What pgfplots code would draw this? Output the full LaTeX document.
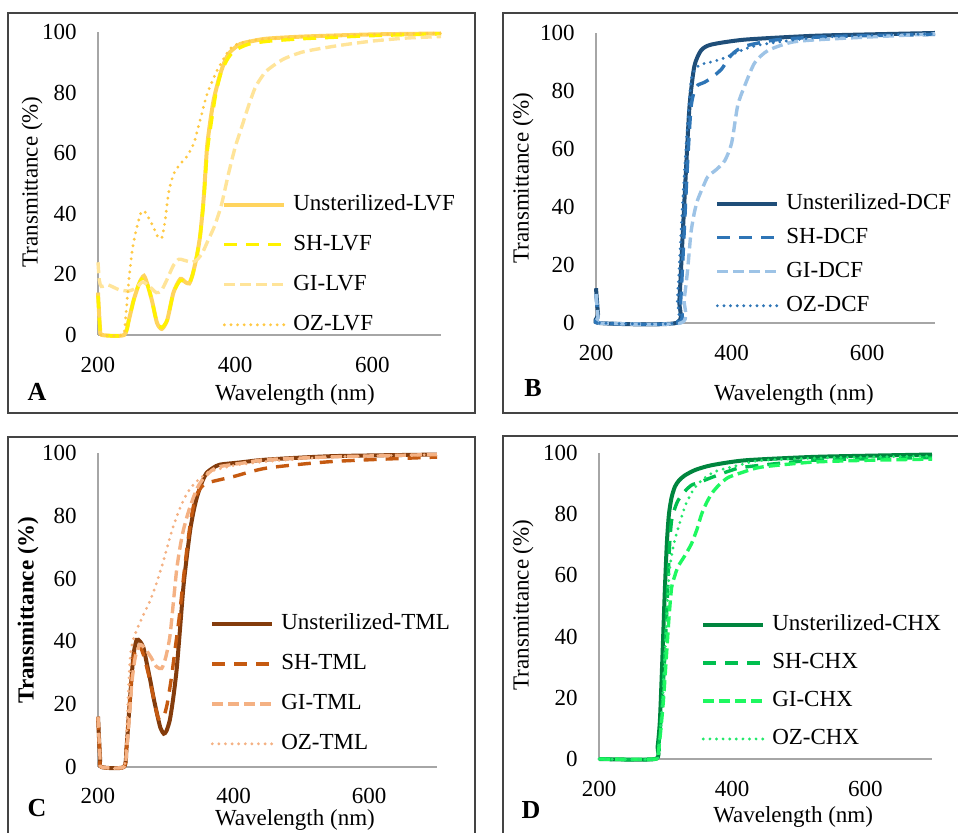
\documentclass[border=0pt]{standalone}
\usepackage{fontspec}
\setmainfont{Liberation Serif}
\usepackage{pgfplots}
\pgfplotsset{compat=1.18}

\definecolor{axisgray}{HTML}{A6A6A6}
\definecolor{framegray}{HTML}{444444}
% LVF
\definecolor{lvfU}{HTML}{FFD45E}
\definecolor{lvfSH}{HTML}{FFF200}
\definecolor{lvfGI}{HTML}{FFE499}
\definecolor{lvfOZ}{HTML}{FFC944}
% DCF
\definecolor{dcfU}{HTML}{1F4E79}
\definecolor{dcfSH}{HTML}{2E75B6}
\definecolor{dcfGI}{HTML}{9DC3E6}
\definecolor{dcfOZ}{HTML}{2E75B6}
% TML
\definecolor{tmlU}{HTML}{843C0C}
\definecolor{tmlSH}{HTML}{C55A11}
\definecolor{tmlGI}{HTML}{F4B183}
\definecolor{tmlOZ}{HTML}{F4B183}
% CHX
\definecolor{chxU}{HTML}{00853E}
\definecolor{chxSH}{HTML}{00BF4F}
\definecolor{chxGI}{HTML}{1EF860}
\definecolor{chxOZ}{HTML}{22E86A}

\newcommand\fs{\fontsize{11.5}{13.8}\selectfont}

\pgfplotsset{
  panel/.style={
    scale only axis, anchor=south west,
    xmin=200, xmax=700, ymin=0, ymax=100,
    xtick={200,400,600}, ytick={0,20,...,100},
    axis lines*=left,
    axis line style={draw=axisgray, line width=0.7pt},
    major tick length=0pt,
    tick label style={font=\fs},
    /pgf/number format/assume math mode=true,
    yticklabel style={inner sep=0pt, anchor=east, xshift=-10.5pt},
    xticklabel style={inner sep=0pt, anchor=north, yshift=-11pt},
    label style={font=\fs},
    clip=false,
    legend cell align=left,
    legend image code/.code={\draw[#1] (0pt,0pt) -- (30pt,0pt);},
    legend style={draw=none, fill=none, inner sep=0pt, anchor=north west,
      font=\fs, row sep=10pt,
      nodes={inner sep=0pt, text height=8pt, text depth=2pt},
      /tikz/every odd column/.style={column sep=3.5pt}},
  },
  uns/.style={line width=2pt, smooth, tension=0.4},
  sh/.style={line width=1.7pt, smooth, tension=0.4, dash pattern=on 6.5pt off 4.5pt},
  gi/.style={line width=1.7pt, smooth, tension=0.4, dash pattern=on 5.5pt off 2.5pt},
  oz/.style={line width=1.6pt, smooth, tension=0.4, line cap=round, dash pattern=on 0pt off 3.3pt},
}

\begin{document}
\begin{tikzpicture}[x=0.5pt,y=0.5pt]
\path[use as bounding box] (0,0) rectangle (958,833);
\clip (0,0) rectangle (958,833);

% frames
\draw[framegray, line width=0.8pt] (8,820) rectangle (475,420);
\draw[framegray, line width=0.8pt] (503,820) rectangle (975,420);
\draw[framegray, line width=0.8pt] (8,396) rectangle (475,-20);
\draw[framegray, line width=0.8pt] (503,397) rectangle (975,-20);

% ---------- A: LVF
\begin{axis}[panel, at={(49pt,249pt)}, width=171.5pt, height=151.5pt,
  xlabel={Wavelength (nm)}, ylabel={Transmittance (\%)},
  xlabel style={at={(axis description cs:0.574,0)}, anchor=center, yshift=-30pt},
  ylabel style={at={(axis description cs:-0.192,0.505)}, anchor=center},
  legend style={at={(axis description cs:0.3615,0.464)}}]
\addplot[uns, lvfU] coordinates {(200,14)(203,2)(206,0)(238,0)(245,5)(252,11.5)(260,17)(267,19.5)(273,16)(279,11)(286,4)(293,2)(301,5)(310,14)(320,18.5)(327,17.5)(333,17)(338,20)(344,26)(349,33)(354,45)(359,62)(364,71)(369,78)(378,86)(386,91)(393,93.5)(407,96)(425,97)(446,97.8)(500,98.5)(600,99.2)(700,99.5)};
\addlegendentry{Unsterilized-LVF}
\addplot[sh, lvfSH] coordinates {(200,13)(203,2)(206,0)(238,0)(245,5)(252,11.5)(260,17)(267,19)(273,16)(279,11)(286,4)(293,2.5)(301,5)(310,14)(320,18)(327,17.5)(333,17)(338,20)(344,26)(349,33)(354,44)(359,60)(365,70)(372,80)(380,87)(390,91.5)(400,94)(420,96)(450,97)(500,97.8)(550,98.3)(600,98.8)(700,99.4)};
\addlegendentry{SH-LVF}
\addplot[gi, lvfGI] coordinates {(200,24)(202,18)(205,16)(215,16.5)(230,15)(245,14.5)(255,15.5)(265,17.5)(275,16)(285,14)(292,14.5)(300,18)(310,23)(318,25)(328,24.5)(338,24)(345,25)(352,27)(360,31)(370,36)(380,43)(390,53)(400,62)(410,69)(420,76)(430,82)(445,87)(470,91)(500,93.5)(550,95.5)(600,97)(650,98)(700,98.5)};
\addlegendentry{GI-LVF}
\addplot[oz, lvfOZ] coordinates {(204,0)(236,0)(240,5)(245,18)(250,28)(256,35)(262,40)(267,41)(273,39)(280,36)(287,32.5)(293,32)(298,38)(303,47)(310,53)(320,56.5)(330,59)(340,63.5)(349,71)(359,79.5)(373,87)(388,93)(398,95.5)(420,97)(450,97.8)(500,98.5)(600,99.2)(700,99.6)};
\addlegendentry{OZ-LVF}
\end{axis}

% ---------- B: DCF
\begin{axis}[panel, at={(298pt,255pt)}, width=169.5pt, height=145pt,
  xlabel={Wavelength (nm)}, ylabel={Transmittance (\%)},
  xlabel style={at={(axis description cs:0.584,0)}, anchor=center, yshift=-36pt},
  ylabel style={at={(axis description cs:-0.215,0.5)}, anchor=center},
  legend style={at={(axis description cs:0.351,0.447)}, row sep=7pt}]
\addplot[uns, dcfU] coordinates {(200,12)(203,3)(205,0)(318,0)(323,8)(328,31)(333,54)(338,75)(345,88.5)(355,94)(370,96)(419,97.7)(518,99)(600,99.5)(700,100)};
\addlegendentry{Unsterilized-DCF}
\addplot[sh, dcfSH] coordinates {(200,10)(203,2)(205,0)(320,0)(325,8)(330,31)(335,55)(340,74)(345,80)(350,82)(360,83)(370,84.5)(385,87.5)(400,92.5)(419,95.4)(468,97.7)(550,98.8)(700,99.5)};
\addlegendentry{SH-DCF}
\addplot[gi, dcfGI] coordinates {(200,10)(203,2)(205,0)(325,0)(330,8)(335,18)(340,31)(345,38)(350,42.5)(358,47)(365,50.5)(378,53)(390,56)(400,62)(409,75)(419,81.6)(434,89.7)(454,94)(493,97)(567,98.2)(700,99.7)};
\addlegendentry{GI-DCF}
\addplot[oz, dcfOZ] coordinates {(205,0)(316,0)(320,8)(324,25)(328,42.5)(334,65)(340,83)(345,87)(350,88.5)(360,89.5)(370,90)(385,91)(400,92.5)(420,94.5)(444,96)(518,98.3)(600,99.2)(700,99.7)};
\addlegendentry{OZ-DCF}
\end{axis}

% ---------- C: TML
\begin{axis}[panel, at={(49pt,33pt)}, width=169.5pt, height=157pt,
  xlabel={Wavelength (nm)}, ylabel={\bfseries Transmittance (\%)},
  xticklabel style={yshift=0.5pt},
  xlabel style={at={(axis description cs:0.581,0)}, anchor=center, yshift=-26.5pt},
  ylabel style={at={(axis description cs:-0.206,0.5)}, anchor=center},
  legend style={at={(axis description cs:0.330,0.489)}}]
\addplot[uns, tmlU] coordinates {(200,16)(203,3)(205,0)(238,0)(242,6)(245,15)(249,27)(252.5,36)(257,40.5)(262,40)(267,38)(272,33)(277,27.7)(282,22)(287,17)(292,12.5)(297,10.6)(301,11.5)(306,15)(311,22)(316,31)(321,44)(326,57.4)(331,67)(336,75.5)(341,81.5)(346,86)(353,90.5)(360,93.6)(370,95.3)(380,96.3)(410,97)(449,97.9)(547,99)(700,99.5)};
\addlegendentry{Unsterilized-TML}
\addplot[sh, tmlSH] coordinates {(200,16)(203,3)(205,0)(238,0)(242,6)(245,15)(249,27)(253,35)(258,39)(263,38)(268,35)(275,29)(282,22)(288,16)(292,15)(297,16)(302,20)(308,28)(314,38)(320,48)(326,60)(332,71)(338,80)(344,86)(352,89)(360,90.4)(380,91.5)(400,92.5)(449,95.2)(547,97.3)(700,98.7)};
\addlegendentry{SH-TML}
\addplot[gi, tmlGI] coordinates {(200,16)(203,3)(205,0)(238,0)(242,5)(246,15)(250,27)(255,35)(262,39)(270,37.5)(278,35)(286,32)(294,31.4)(300,35)(306,41.5)(311,52)(316,62.8)(321,70)(326,75.5)(333,81)(341,86)(348,89.5)(356,92)(368,94.5)(380,95.7)(420,97)(449,97.9)(550,98.8)(700,99.5)};
\addlegendentry{GI-TML}
\addplot[oz, tmlOZ] coordinates {(205,0)(238,0)(242,10)(245,25)(248,36)(252,40.5)(257,43.6)(267,48.5)(277,53)(287,59)(297,66)(304,71.5)(311,76.6)(321,82.5)(331,87)(341,90)(351,92)(362,93.8)(375,94.7)(400,96)(449,97.3)(550,98.8)(700,99.5)};
\addlegendentry{OZ-TML}
\end{axis}

% ---------- D: CHX
\begin{axis}[panel, at={(299.5pt,37pt)}, width=166.5pt, height=153pt,
  xlabel={Wavelength (nm)}, ylabel={Transmittance (\%)},
  xlabel style={at={(axis description cs:0.583,0)}, anchor=center, yshift=-29pt},
  ylabel style={at={(axis description cs:-0.228,0.503)}, anchor=center},
  legend style={at={(axis description cs:0.306,0.472)}, row sep=9pt}]
\addplot[uns, chxU] coordinates {(200,0)(284,0)(288,4)(291.5,12.8)(295,32)(299,56)(302,71)(305,80)(309,85.5)(314,89)(320,91)(329,92.7)(345,94.5)(369,96)(419,97.6)(519,98.7)(600,99.1)(700,99.5)};
\addlegendentry{Unsterilized-CHX}
\addplot[sh, chxSH] coordinates {(200,0)(285,0)(290,5)(295,18)(299,34.6)(303,55)(306,70)(309,78)(314,82)(319,84.6)(329,87.5)(339,89.5)(354,90.7)(369,92)(394,94)(419,95.4)(519,97.6)(600,98.1)(700,98.5)};
\addlegendentry{SH-CHX}
\addplot[gi, chxGI] coordinates {(200,0)(286,0)(289,2)(293,10)(297,20)(301.5,34.6)(305,46)(309,56)(314,60)(319,63)(329,66.5)(339,70.4)(347,75)(354,80)(361,83.5)(369,86.7)(380,89.5)(394,92)(420,94)(444,95.4)(519,97)(600,97.6)(700,98)};
\addlegendentry{GI-CHX}
\addplot[oz, chxOZ] coordinates {(200,0)(285,0)(289,3)(294,14)(299,34.6)(303,52)(306,62)(312,70)(319,75.5)(329,82.5)(339,87)(349,90)(364,92.7)(379,94.3)(410,96)(444,97.6)(550,98.5)(700,99)};
\addlegendentry{OZ-CHX}
\end{axis}

\node[font=\fontsize{13}{15}\selectfont\bfseries] at (37,441) {A};
\node[font=\fontsize{13}{15}\selectfont\bfseries] at (533,445) {B};
\node[font=\fontsize{13}{15}\selectfont\bfseries] at (37,25) {C};
\node[font=\fontsize{13}{15}\selectfont\bfseries] at (531,23) {D};
\end{tikzpicture}
\end{document}
